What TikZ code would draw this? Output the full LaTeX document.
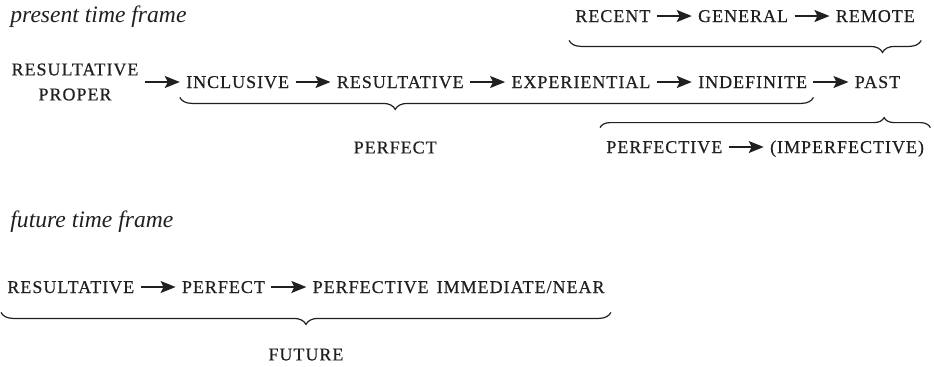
\documentclass[tikz,border=0pt]{standalone}
\usepackage{fontspec}
\setmainfont{Liberation Serif}
\newfontfamily\capsfont[LetterSpace=5.5, FakeBold=0.5]{Liberation Serif}
\usepackage{tikz}
\usetikzlibrary{positioning, arrows.meta, calc, decorations.pathreplacing}
\definecolor{ink}{RGB}{35,31,32}
\tikzset{
  label/.style={inner sep=3pt, color=ink, font=\capsfont\fontsize{9}{12.5}\selectfont},
  term/.style={label, text height=7pt, text depth=1pt},
  heading/.style={inner sep=3pt, anchor=base west, color=ink, font=\fontsize{11.8}{14}\selectfont\itshape},
  arr/.style={-{Stealth[length=7.5pt, width=6pt, inset=1.5pt]}, line width=0.8pt, color=ink},
  brc/.style={decorate, line width=0.6pt, color=ink, decoration={brace, amplitude=6pt, #1}}
}

\begin{document}
\begin{tikzpicture}[x=0.5pt, y=-0.5pt, node distance=17.5pt]
    \useasboundingbox (0,0) rectangle (934,366);
    \node[heading] (present) at (4,22) {present time frame};
    \node[label, align=center] (rp) at (75,82) {RESULTATIVE\\PROPER};
    \node[term, right=of rp] (incl) {INCLUSIVE};
    \node[term, right=of incl] (res) {RESULTATIVE};
    \node[term, right=of res] (exp) {EXPERIENTIAL};
    \node[term, right=of exp] (indef) {INDEFINITE};
    \node[term, right=of indef] (past) {PAST};
    \node[term, above=33pt of indef.west, anchor=west] (general) {GENERAL};
    \node[term, left=of general] (recent) {RECENT};
    \node[term, right=of general] (remote) {REMOTE};
    \node[term, anchor=west] (pfv) at (600,147) {PERFECTIVE};
    \node[term, right=of pfv] (ipfv) {(IMPERFECTIVE)};
    \draw[arr] (rp) -- (incl);
    \draw[arr] (incl) -- (res);
    \draw[arr] (res) -- (exp);
    \draw[arr] (exp) -- (indef);
    \draw[arr] (indef) -- (past);
    \draw[arr] (recent) -- (general);
    \draw[arr] (general) -- (remote);
    \draw[arr] (pfv) -- (ipfv);
    \draw[brc={mirror, aspect=0.89, raise=5pt}] (recent.south west) -- (remote.south east);
    \draw[brc={mirror, aspect=0.34, raise=0.5pt}] (incl.south west) -- (indef.south east);
    \draw[brc={aspect=0.86, amplitude=5pt, raise=2.5pt}] (pfv.north west) -- (ipfv.north east);
    \node[term] (perfect) at ($(incl.south west)!0.34!(indef.south east)+(0,51)$) {PERFECT};
    \node[heading] (future) at (4,227) {future time frame};
    \node[term, anchor=west] (fres) at (1,287) {RESULTATIVE};
    \node[term, right=of fres] (fperf) {PERFECT};
    \node[term, right=of fperf] (fpfv) {PERFECTIVE\hspace{4pt}IMMEDIATE/NEAR};
    \draw[arr] (fres) -- (fperf);
    \draw[arr] (fperf) -- (fpfv);
    \draw[brc={mirror, aspect=0.5, raise=5.5pt}] (fres.south west) -- (fpfv.south east);
    \node[term] (futlabel) at ($(fres.south west)!0.5!(fpfv.south east)+(0,53)$) {FUTURE};
\end{tikzpicture}
\end{document}
